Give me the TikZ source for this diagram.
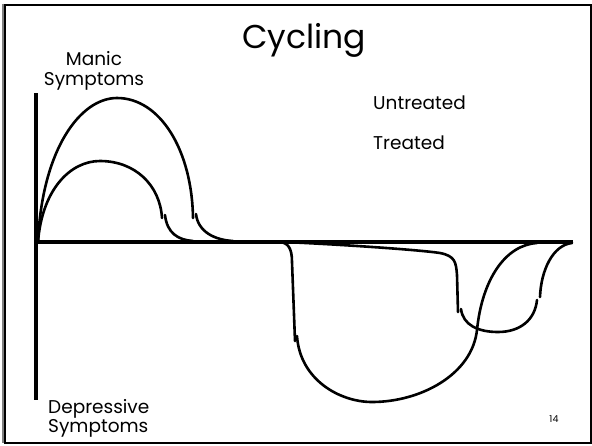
\documentclass[tikz,border=0pt]{standalone}
\usepackage{fontspec}
\setmainfont{Poppins}
\begin{document}
\begin{tikzpicture}[x=1pt,y=-1pt,
  curve/.style={line width=2.6pt,line cap=round,line join=round},
  axis/.style={line width=4pt},
  lbl/.style={inner sep=0pt,font=\fontsize{18.5}{19.5}\selectfont},
  ]
\useasboundingbox (0,0) rectangle (592,445);
\draw[line width=1.5pt,gray] (3,3.5) -- (3,443);
\draw[line width=2pt] (4.5,4.5) rectangle (590.5,442.5);
% title and labels
\node[inner sep=0pt,font=\fontsize{33}{36}\selectfont] (title) at (304,40) {Cycling};
\node[lbl,align=center] (manic) at (94,71) {Manic\\Symptoms};
\node[lbl,anchor=base west] (untr) at (373,109) {Untreated};
\node[lbl,anchor=base west] (tr) at (373,149) {Treated};
\node[lbl,anchor=west,align=left] (dep) at (48,418.5) {Depressive\\Symptoms};
\node[inner sep=0pt,font=\fontsize{9.5}{11}\selectfont] (num) at (554,419) {14};
% curves: manic untreated
\draw[curve] (38,242) .. controls (42,150) and (80,98) .. (117,98) .. controls (160,98) and (192,150) .. (193,218);
\draw[curve] (196,214) .. controls (198,232) and (215,240) .. (233,241);
% manic treated
\draw[curve] (38,242) .. controls (42,190) and (70,161) .. (100,161) .. controls (135,161) and (160,185) .. (162,218);
\draw[curve] (165,215) .. controls (167,233) and (178,240) .. (193,241);
% depression untreated
\draw[curve] (280,242) .. controls (288,243) and (292,248) .. (292,262) -- (295,341);
\draw[curve] (297,336) .. controls (300,380) and (340,402) .. (372,402) .. controls (420,402) and (472,375) .. (477,330) .. controls (482,280) and (505,245) .. (537,243);
% depression treated
\draw[curve] (285,242) .. controls (350,245) and (420,250) .. (440,253) .. controls (455,256) and (456,262) .. (457,275) -- (458,312);
\draw[curve] (461,309) .. controls (463,325) and (478,332) .. (498,332) .. controls (520,332) and (535,320) .. (537,300);
\draw[curve] (540,297) .. controls (541,270) and (553,245) .. (572,243);
% axes
\draw[axis] (36,93) -- (36,400);
\draw[axis] (36,242) -- (573,242);
\end{tikzpicture}
\end{document}
